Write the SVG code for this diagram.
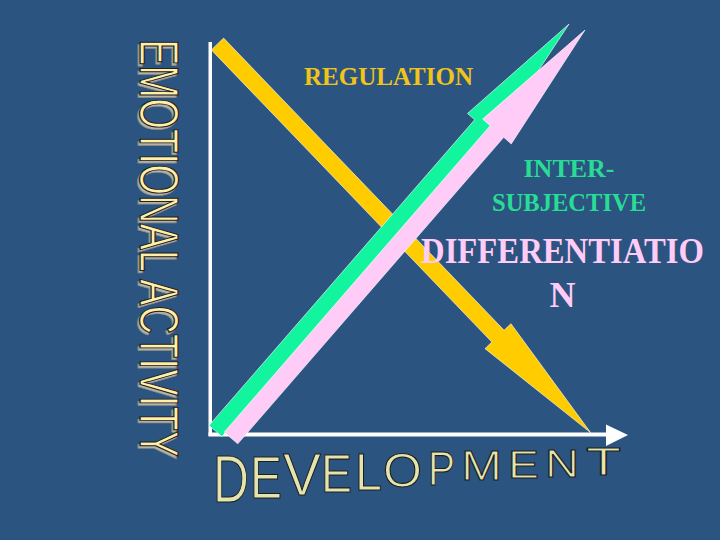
<svg xmlns="http://www.w3.org/2000/svg" width="720" height="540" viewBox="0 0 720 540">
<style>
.arrow{stroke:#FFFFFF;stroke-width:0.8;stroke-opacity:0.7;stroke-linejoin:miter}
.serif{font-family:"Liberation Serif","DejaVu Serif",serif;font-weight:bold}
.sans{font-family:"Liberation Sans",Arial,sans-serif}
.emo{fill:#FFEFA8;stroke:#222222;stroke-width:1.3}
.emoshadow{fill:#B4B0A4;stroke:#8A8A8A;stroke-width:1}
.dev{fill:#E4E4AE;stroke:#1E1E1E;stroke-width:1.1}
</style>
<defs>
<polygon id="arr" points="0,-8.5 405,-8.5 405,-18 539,0 405,18 405,8.5 0,8.5"/>
</defs>
<rect width="720" height="540" fill="#2C5480"/>

<g id="axes" fill="#FFFFFF">
<rect x="208.5" y="42" width="3.5" height="394"/>
<rect x="208.5" y="432.5" width="400" height="4"/>
<polygon points="606,424.5 628,435 606,446"/>
</g>

<g id="connectors">
<use href="#arr" class="arrow" fill="#FFCC00" transform="translate(217.5,44) rotate(46.17)"/>
<use href="#arr" class="arrow" fill="#12F59E" transform="translate(215.5,431) rotate(-49.02)"/>
<use href="#arr" class="arrow" fill="#FFCCF8" transform="translate(231,438) rotate(-49.05) scale(1.002,1.05)"/>
</g>

<g id="emotional-activity" class="sans" font-size="56">
<text class="emoshadow" transform="translate(137.5,41.5) rotate(90)" textLength="418" lengthAdjust="spacingAndGlyphs">EMOTIONAL ACTIVITY</text>
<text class="emo" transform="translate(140,39) rotate(90)" textLength="418" lengthAdjust="spacingAndGlyphs">EMOTIONAL ACTIVITY</text>
</g>

<g id="development">
<text class="sans dev"><tspan x="213" y="502" font-size="66" textLength="36" lengthAdjust="spacingAndGlyphs">D</tspan><tspan x="250" y="498" font-size="60" textLength="32" lengthAdjust="spacingAndGlyphs">E</tspan><tspan x="283" y="495" font-size="59" textLength="38" lengthAdjust="spacingAndGlyphs">V</tspan><tspan x="321" y="492" font-size="54" textLength="31" lengthAdjust="spacingAndGlyphs">E</tspan><tspan x="355" y="490" font-size="52" textLength="27" lengthAdjust="spacingAndGlyphs">L</tspan><tspan x="383" y="487" font-size="48" textLength="39" lengthAdjust="spacingAndGlyphs">O</tspan><tspan x="428" y="485" font-size="49" textLength="27" lengthAdjust="spacingAndGlyphs">P</tspan><tspan x="461" y="480" font-size="42" textLength="41" lengthAdjust="spacingAndGlyphs">M</tspan><tspan x="508" y="478" font-size="39" textLength="31" lengthAdjust="spacingAndGlyphs">E</tspan><tspan x="545" y="477" font-size="38" textLength="34" lengthAdjust="spacingAndGlyphs">N</tspan><tspan x="586" y="475" font-size="38" textLength="35" lengthAdjust="spacingAndGlyphs">T</tspan></text>
</g>

<g id="regulation">
<text class="serif" x="304" y="85" font-size="26" fill="#F0C419" textLength="169" lengthAdjust="spacingAndGlyphs">REGULATION</text>
</g>

<g id="intersubjective" class="serif" font-size="26" fill="#27DD96" text-anchor="middle">
<text x="569" y="177">INTER-</text>
<text x="569" y="211" textLength="154" lengthAdjust="spacingAndGlyphs">SUBJECTIVE</text>
</g>

<g id="differentiation" class="serif" font-size="35" fill="#FFCCF7" text-anchor="middle">
<text x="562.5" y="263" textLength="283" lengthAdjust="spacingAndGlyphs">DIFFERENTIATIO</text>
<text x="562.5" y="307" font-size="36">N</text>
</g>
</svg>
